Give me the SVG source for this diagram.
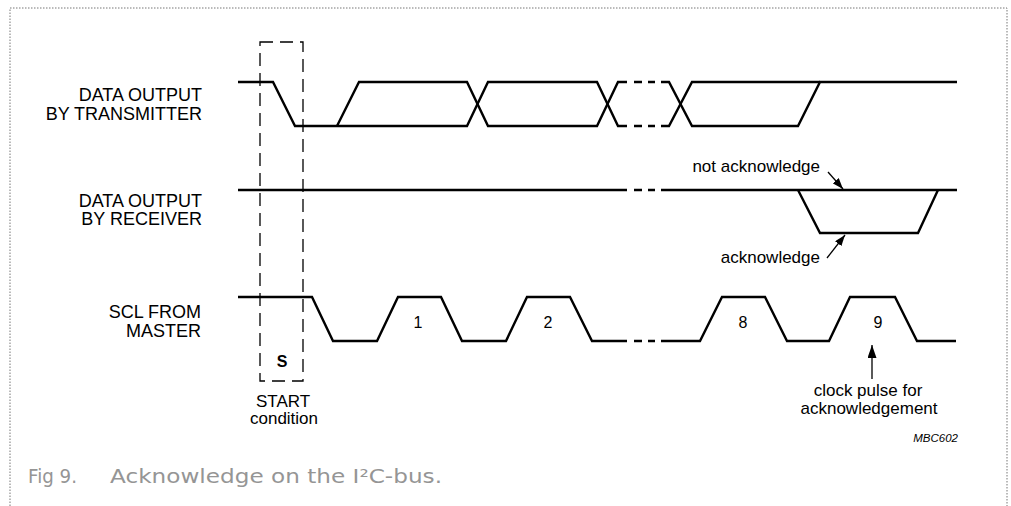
<svg xmlns="http://www.w3.org/2000/svg" width="1011" height="506" viewBox="0 0 1011 506">
<style>
  .sig { fill: none; stroke: #000; stroke-width: 2.4; stroke-linejoin: miter; stroke-linecap: butt; }
  .dash { fill: none; stroke: #000; stroke-width: 1.3; stroke-dasharray: 13 7; }
  .lbl { font-family: "Liberation Sans", Arial, sans-serif; font-size: 18px; fill: #000; }
  .txt { font-family: "Liberation Sans", Arial, sans-serif; font-size: 17px; fill: #000; }
  .num { font-family: "Liberation Sans", Arial, sans-serif; font-size: 16px; fill: #000; }
  .arr { fill: none; stroke: #000; stroke-width: 1.3; }
  .cap { font-family: "DejaVu Sans", "Liberation Sans", sans-serif; font-size: 19px; fill: #959595; }
  .frame { fill: none; stroke: #777; stroke-width: 1; stroke-dasharray: 1.5 1.5; }
</style>
<defs>
  <marker id="ah" markerWidth="11" markerHeight="8" refX="11" refY="4" orient="auto" markerUnits="userSpaceOnUse">
    <path d="M0,0 L11,4 L0,8 z" fill="#000"/>
  </marker>
  <marker id="ah2" markerWidth="13" markerHeight="9" refX="13" refY="4.5" orient="auto" markerUnits="userSpaceOnUse">
    <path d="M0,0 L13,4.5 L0,9 z" fill="#000"/>
  </marker>
</defs>

<path class="frame" d="M10,506 V8 H1007 V506"/>

<g id="label-transmitter">
  <text class="lbl" x="202" y="101" text-anchor="end">DATA OUTPUT</text>
  <text class="lbl" x="202" y="120" text-anchor="end">BY TRANSMITTER</text>
</g>
<g id="label-receiver">
  <text class="lbl" x="202" y="207" text-anchor="end">DATA OUTPUT</text>
  <text class="lbl" x="202" y="225" text-anchor="end">BY RECEIVER</text>
</g>
<g id="label-scl">
  <text class="lbl" x="201" y="318" text-anchor="end">SCL FROM</text>
  <text class="lbl" x="201" y="337" text-anchor="end">MASTER</text>
</g>

<g id="start-condition">
  <rect class="dash" x="260" y="42" width="43" height="339"/>
  <text x="282" y="367" text-anchor="middle" font-family="Liberation Sans, Arial, sans-serif" font-size="16" font-weight="bold">S</text>
  <text class="txt" x="283" y="407" text-anchor="middle">START</text>
  <text class="txt" x="284" y="424" text-anchor="middle">condition</text>
</g>

<g id="signal-transmitter">
  <path class="sig" d="M238,82 H273 L295,126 H467 L488,82 H597 L618,126 H627"/>
  <path class="sig" d="M337,126 L359,82 H467 L488,126 H597 L618,82 H627"/>
  <path class="sig" d="M634,82 H642 M648,82 H655 M634,126 H642 M648,126 H655"/>
  <path class="sig" d="M661,82 H669 L692,126 H798 L820,82 H957"/>
  <path class="sig" d="M661,126 H669 L692,82 H820"/>
</g>

<g id="signal-receiver">
  <path class="sig" d="M238,190 H627 M634,190 H642 M648,190 H655 M661,190 H957"/>
  <path class="sig" d="M798,190 L820,233 H918 L938,190"/>
</g>

<g id="signal-scl">
  <path class="sig" d="M238,297 H312 L333,341 H377 L398,297 H441 L462,341 H506 L527,297 H570 L592,341 H627 M634,341 H642 M648,341 H655 M661,341 H700 L722,297 H765 L787,341 H829 L850,297 H895 L917,341 H956"/>
  <text class="num" x="418" y="328" text-anchor="middle">1</text>
  <text class="num" x="548" y="328" text-anchor="middle">2</text>
  <text class="num" x="743" y="328" text-anchor="middle">8</text>
  <text class="num" x="878" y="328" text-anchor="middle">9</text>
</g>

<g id="connectors">
  <line class="arr" x1="828" y1="172" x2="843" y2="189" marker-end="url(#ah)"/>
  <line class="arr" x1="827" y1="258" x2="845" y2="235" marker-end="url(#ah)"/>
  <line class="arr" x1="872" y1="379" x2="872" y2="345" marker-end="url(#ah2)"/>
</g>

<g id="annotations">
  <text class="txt" x="820" y="172" text-anchor="end">not acknowledge</text>
  <text class="txt" x="820" y="263" text-anchor="end">acknowledge</text>
  <text class="txt" x="868" y="396" text-anchor="middle">clock pulse for</text>
  <text class="txt" x="869" y="414" text-anchor="middle">acknowledgement</text>
  <text x="958" y="442" text-anchor="end" font-family="Liberation Sans, Arial, sans-serif" font-size="11.5" font-style="italic">MBC602</text>
</g>

<g id="caption">
  <text class="cap" x="28" y="483" textLength="49" lengthAdjust="spacingAndGlyphs">Fig 9.</text>
  <text class="cap" x="110" y="483" textLength="332" lengthAdjust="spacingAndGlyphs">Acknowledge on the I²C-bus.</text>
</g>
</svg>
